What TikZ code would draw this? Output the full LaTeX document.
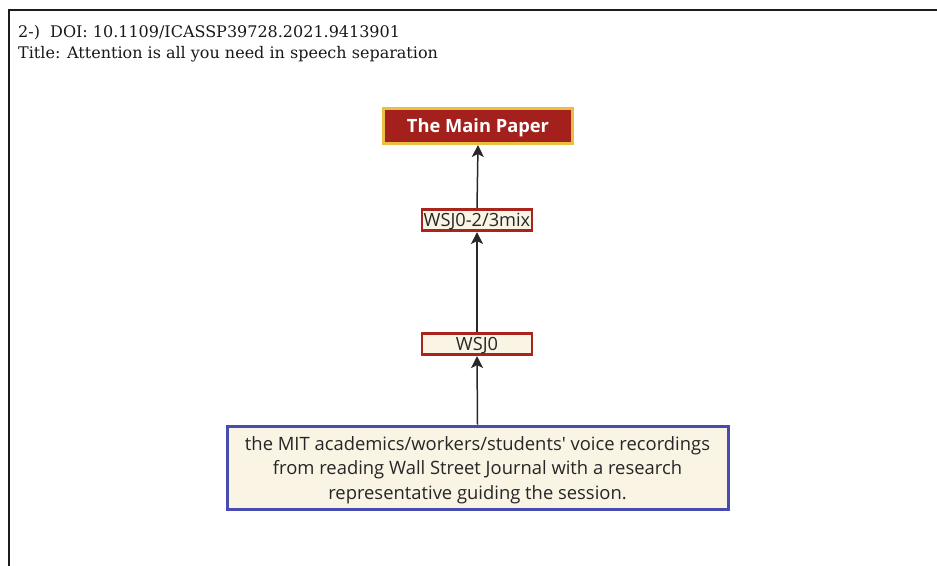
\documentclass[tikz,border=0pt]{standalone}
\usepackage{fontspec}
\setmainfont{DejaVu Serif}
\newfontfamily\boxfont{Open Sans}
\usetikzlibrary{arrows.meta}
\definecolor{paperred}{RGB}{164,32,28}
\definecolor{paperyellow}{RGB}{234,190,64}
\definecolor{cream}{RGB}{249,244,228}
\definecolor{dsred}{RGB}{170,36,30}
\definecolor{srcblue}{RGB}{72,76,176}
\definecolor{framegray}{RGB}{28,28,28}
\definecolor{arrowgray}{RGB}{40,40,40}
\tikzset{
  mainbox/.style={draw=paperyellow, fill=paperred, line width=3pt, text=white,
    font=\boxfont\bfseries\fontsize{18.3}{22}\selectfont, inner sep=0pt,
    text depth=0pt, minimum width=189pt, minimum height=35pt},
  databox/.style={draw=dsred, fill=cream, line width=2.6pt, text=black!85,
    font=\boxfont\fontsize{18.2}{21}\selectfont, inner sep=0pt,
    text depth=0pt, minimum width=110pt, minimum height=21.5pt},
  sourcebox/.style={draw=srcblue, fill=cream, line width=3pt, text=black!85,
    font=\boxfont\fontsize{18.4}{24.5}\selectfont, align=center, inner sep=0pt,
    minimum width=501pt, minimum height=83pt},
  link/.style={draw=arrowgray, line width=1.5pt, -{Stealth[length=12pt,width=12pt,inset=3pt]}},
  header/.style={anchor=base west, inner sep=0pt, font=\fontsize{16}{20}\selectfont, text=black!90}
}
\begin{document}
\begin{tikzpicture}[x=1pt,y=-1pt]
\useasboundingbox (0,0) rectangle (937,565);
\fill[white] (0,0) rectangle (937,565);
% open frame around the entry
\draw[framegray, line width=2.6pt] (940,10) -- (9,10) -- (9,568);
\node[header] (doi) at (18,37) {2-)\ \ DOI: 10.1109/ICASSP39728.2021.9413901};
\node[header] (title) at (18,58) {Title: Attention is all you need in speech separation};
% dependency chain
\node[mainbox] (main) at (478,126) {The Main Paper};
\node[databox] (mix) at (477,220) {WSJ0-2/3mix};
\node[databox] (wsj) at (477,344) {WSJ0};
\node[sourcebox] (src) at (477.5,467.5) {\rule{0pt}{19pt}the MIT academics/workers/students' voice recordings\\from reading Wall Street Journal with a research\\representative guiding the session.};
\draw[link] (src.north) -- (wsj.south);
\draw[link] (wsj.north) -- (mix.south);
\draw[link] (mix.north) -- (main.south);
\end{tikzpicture}
\end{document}
